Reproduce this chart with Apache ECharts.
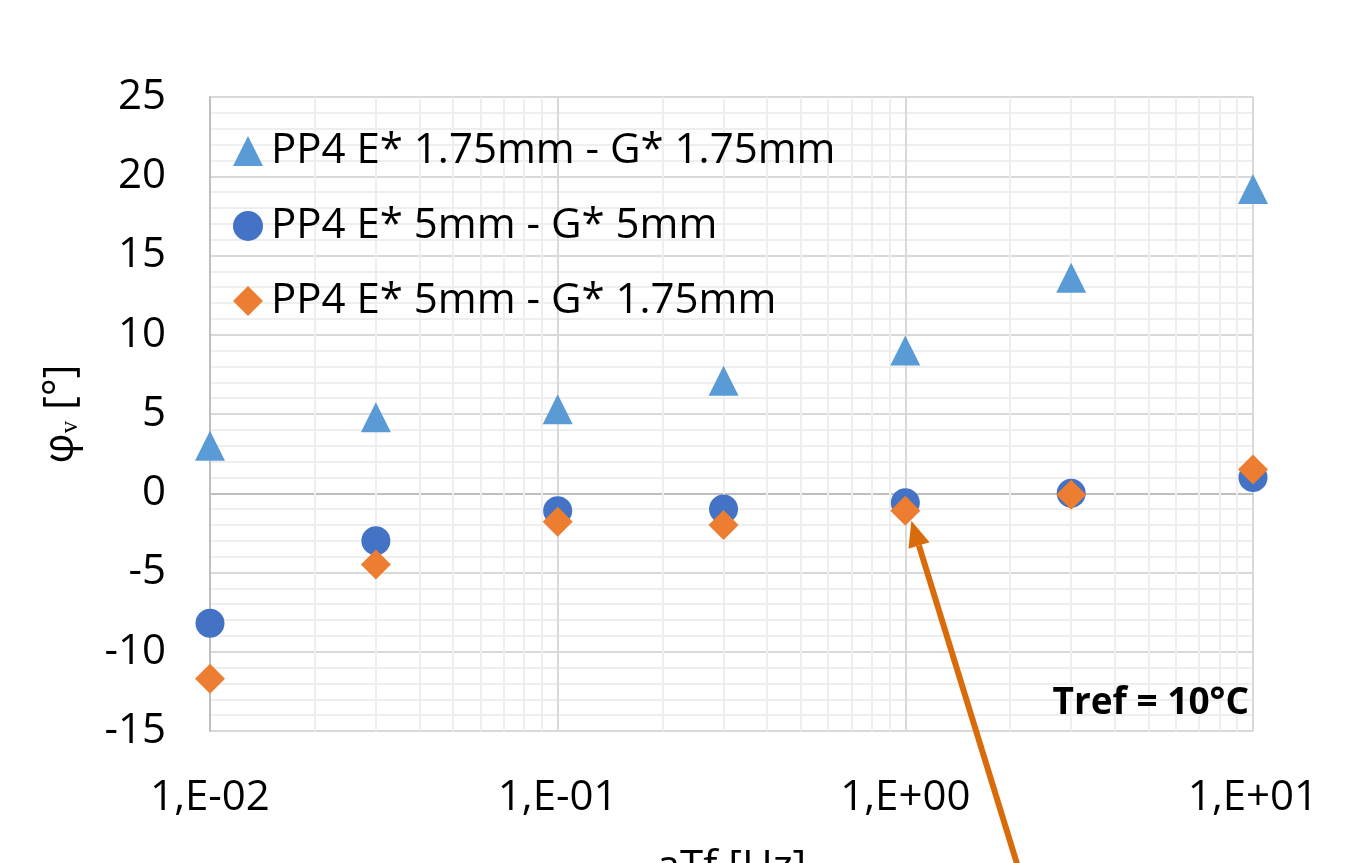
<!DOCTYPE html>
<html><head><meta charset="utf-8">
<script src="https://cdn.jsdelivr.net/npm/echarts@6/dist/echarts.min.js"></script>
<style>html,body{margin:0;padding:0;background:#fff}#c{width:1347px;height:863px}</style>
</head><body><div id="c"></div>
<script>
const freqs = [0.01, 0.03, 0.1, 0.3, 1, 3, 10];
const seriesNames = ['PP4 E* 1.75mm - G* 1.75mm', 'PP4 E* 5mm - G* 5mm', 'PP4 E* 5mm - G* 1.75mm'];
const triVals = [3.0, 4.8, 5.3, 7.1, 9.0, 13.6, 19.2];
const circVals = [-8.2, -3.0, -1.1, -1.0, -0.6, 0.0, 1.0];
const diamVals = [-11.7, -4.5, -1.8, -2.0, -1.1, -0.1, 1.5];
const yTicks = [-15, -10, -5, 0, 5, 10, 15, 20, 25];
const xDecades = [0.01, 0.1, 1, 10];
const annotationText = 'Tref = 10°C';
const arrowTarget = [1, -1.1];

const FONT = 'Open Sans';
const FS = 42;
const minorX = [];
for (let i = 0; i < xDecades.length - 1; i++) {
  for (let k = 2; k <= 9; k++) minorX.push({xAxis: +(xDecades[i] * k).toPrecision(3)});
}
const pair = v => freqs.map((f, i) => [f, v[i]]);

const chart = echarts.init(document.getElementById('c'), null, {renderer: 'canvas'});
chart.setOption({
  animation: false,
  backgroundColor: '#fff',
  textStyle: {fontFamily: FONT},
  grid: {left: 210, right: 94, top: 97, bottom: 132, containLabel: false, outerBoundsMode: 'none'},
  legend: {
    orient: 'vertical', left: 228, top: 125,
    itemWidth: 30, itemHeight: 30, itemGap: 33,
    textStyle: {fontFamily: FONT, fontSize: FS, color: '#000', padding: [0, 0, 0, 3]},
    data: [
      {name: seriesNames[0], icon: 'triangle'},
      {name: seriesNames[1], icon: 'circle'},
      {name: seriesNames[2], icon: 'diamond'}
    ]
  },
  xAxis: {
    type: 'log', logBase: 10, min: xDecades[0], max: xDecades[xDecades.length - 1],
    name: 'aTf [Hz]', nameLocation: 'middle', nameGap: 116,
    nameTextStyle: {fontFamily: FONT, fontSize: FS, color: '#000'},
    axisLine: {show: true, lineStyle: {color: '#bfbfbf', width: 2}},
    axisTick: {show: false},
    splitLine: {show: true, lineStyle: {color: '#d9d9d9', width: 2}},
    axisLabel: {
      fontFamily: FONT, fontSize: FS, color: '#000', margin: 46,
      formatter: v => {
        const e = Math.round(Math.log10(v));
        return '1,E' + (e < 0 ? '-' : '+') + String(Math.abs(e)).padStart(2, '0');
      }
    }
  },
  yAxis: {
    type: 'value', min: yTicks[0], max: yTicks[yTicks.length - 1], interval: 5,
    name: 'φᵥ [°]', nameLocation: 'middle', nameGap: 128, nameRotate: 90,
    nameTextStyle: {fontFamily: FONT, fontSize: FS, color: '#000'},
    axisLine: {show: true, lineStyle: {color: '#bfbfbf', width: 2}},
    axisTick: {show: false},
    splitLine: {show: true, lineStyle: {color: '#d9d9d9', width: 2}},
    minorTick: {show: false, splitNumber: 5},
    minorSplitLine: {show: true, lineStyle: {color: '#eeeeee', width: 2}},
    axisLabel: {fontFamily: FONT, fontSize: FS, color: '#000', margin: 44}
  },
  series: [
    {
      type: 'scatter', name: '_minor', data: [], z: 1, silent: true,
      markLine: {silent: true, z: 1, symbol: 'none', label: {show: false},
        lineStyle: {color: '#eeeeee', width: 2, type: 'solid'}, data: minorX}
    },
    {type: 'scatter', name: seriesNames[0], symbol: 'triangle', symbolSize: 30,
      itemStyle: {color: '#5B9BD5', opacity: 1}, data: pair(triVals), z: 3},
    {type: 'scatter', name: seriesNames[1], symbol: 'circle', symbolSize: 29,
      itemStyle: {color: '#4472C4', opacity: 1}, data: pair(circVals), z: 4},
    {type: 'scatter', name: seriesNames[2], symbol: 'diamond', symbolSize: 30,
      itemStyle: {color: '#ED7D31', opacity: 1}, data: pair(diamVals), z: 5}
  ]
});

function drawAnnotations() {
  const tipC = chart.convertToPixel({gridIndex: 0}, arrowTarget);
  const tip = [tipC[0] + 6, tipC[1] + 10];
  const tail = [1022, 880];
  const dx = tip[0] - tail[0], dy = tip[1] - tail[1];
  const L = Math.hypot(dx, dy), ux = dx / L, uy = dy / L;
  const hl = 26, hw = 11;
  const base = [tip[0] - ux * hl, tip[1] - uy * hl];
  const px = -uy, py = ux;
  const br = chart.convertToPixel({gridIndex: 0}, [xDecades[xDecades.length - 1], yTicks[0]]);
  chart.setOption({
    graphic: [
      {type: 'line', z: 50, shape: {x1: tail[0], y1: tail[1], x2: base[0], y2: base[1]},
        style: {stroke: '#D86C0A', lineWidth: 6}},
      {type: 'polygon', z: 50, shape: {points: [tip, [base[0] + px * hw, base[1] + py * hw], [base[0] - px * hw, base[1] - py * hw]]},
        style: {fill: '#D86C0A'}},
      {type: 'text', z: 50, x: br[0] - 4, y: br[1] - 28,
        style: {text: annotationText, fontFamily: FONT, fontWeight: 'bold', fontSize: 37, fill: '#000', align: 'right', verticalAlign: 'middle'}}
    ]
  });
}
drawAnnotations();
</script></body></html>
